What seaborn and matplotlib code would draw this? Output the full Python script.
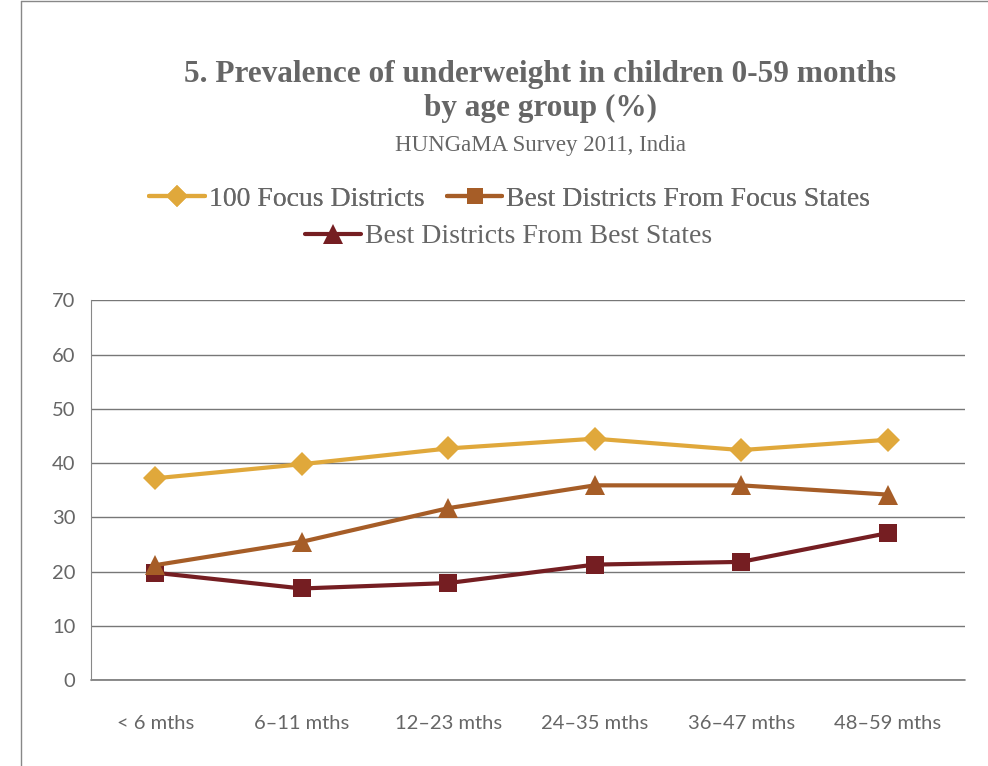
import pandas as pd
import matplotlib
matplotlib.use('Agg')
import matplotlib.pyplot as plt
from matplotlib.lines import Line2D
import seaborn as sns

# données
age_groups = ['< 6 mths', '6–11 mths', '12–23 mths', '24–35 mths', '36–47 mths', '48–59 mths']
focus_districts = [37.2, 39.8, 42.7, 44.5, 42.4, 44.3]
best_focus_states = [21.2, 25.5, 31.7, 35.9, 35.9, 34.2]
best_best_states = [19.8, 16.9, 17.9, 21.3, 21.8, 27.1]

series_names = ['100 Focus Districts', 'Best Districts From Focus States', 'Best Districts From Best States']
colors = {'100 Focus Districts': '#E0A83B',
          'Best Districts From Focus States': '#A65D27',
          'Best Districts From Best States': '#751E22'}
plot_markers = {'100 Focus Districts': 'D',
                'Best Districts From Focus States': '^',
                'Best Districts From Best States': 's'}
legend_markers = {'100 Focus Districts': 'D',
                  'Best Districts From Focus States': 's',
                  'Best Districts From Best States': '^'}
marker_sizes = {'D': 12, '^': 15, 's': 13}

df = pd.DataFrame({
    'age': age_groups * 3,
    'value': focus_districts + best_focus_states + best_best_states,
    'series': [series_names[0]] * 6 + [series_names[1]] * 6 + [series_names[2]] * 6,
})

sns.set_style('white')
plt.rcParams['font.family'] = ['Lato', 'DejaVu Sans']

fig = plt.figure(figsize=(9.88, 7.66), dpi=100)
ax = fig.add_axes([0.092, 0.112, 0.885, 0.496])

# une courbe par série pour régler la taille de chaque symbole
for name in series_names[::-1]:
    sub = df[df['series'] == name]
    m = plot_markers[name]
    sns.lineplot(data=sub, x='age', y='value', color=colors[name], marker=m,
                 sort=False, linewidth=3, markersize=marker_sizes[m],
                 markeredgewidth=0, ax=ax)

ax.set_ylim(0, 70)
ax.set_xlim(-0.44, 5.53)
ax.set_yticks(range(0, 71, 10))
ax.yaxis.grid(True, color='#777777', linewidth=1)
ax.axhline(0, color='#777777', linewidth=1.2, clip_on=False, zorder=0)
ax.set_axisbelow(True)
for s in ['top', 'right', 'bottom']:
    ax.spines[s].set_visible(False)
ax.spines['left'].set_color('#888888')
ax.set_xlabel('')
ax.set_ylabel('')
ax.tick_params(axis='both', length=0, labelsize=14.5, labelcolor='#666666')
ax.tick_params(axis='x', pad=25)
ax.tick_params(axis='y', pad=11)

# titres
fig.text(0.547, 0.903, '5. Prevalence of underweight in children 0-59 months',
         ha='center', va='center', fontsize=22.5, fontweight='bold',
         color='#666666', family='Liberation Serif')
fig.text(0.547, 0.859, 'by age group (%)', ha='center', va='center', fontsize=22.5,
         fontweight='bold', color='#666666', family='Liberation Serif')
fig.text(0.547, 0.810, 'HUNGaMA Survey 2011, India', ha='center', va='center',
         fontsize=16.5, color='#666666', family='Liberation Serif')

# légende (les symboles diffèrent de ceux des courbes, comme dans l'original)
handles = [Line2D([], [], color=colors[n], marker=legend_markers[n], linewidth=3,
                  markersize=marker_sizes[legend_markers[n]] - 1, markeredgewidth=0)
           for n in series_names]
leg_font = {'family': 'Liberation Serif', 'size': 20}
leg1 = fig.legend(handles[:2], series_names[:2], loc='center', bbox_to_anchor=(0.516, 0.740),
                  ncol=2, frameon=False, prop=leg_font, handlelength=2.0,
                  handletextpad=0.15, columnspacing=0.8, labelcolor='#666666')
fig.legend(handles[2:], series_names[2:], loc='center', bbox_to_anchor=(0.515, 0.691),
           frameon=False, prop=leg_font, handlelength=2.0, handletextpad=0.15,
           labelcolor='#666666')
fig.add_artist(leg1)

# cadre de la page
fig.add_artist(Line2D([0.021, 0.021], [0, 0.999], color='#888888', linewidth=1))
fig.add_artist(Line2D([0.021, 1], [0.999, 0.999], color='#888888', linewidth=1))

fig.savefig('out.png', dpi=100)
